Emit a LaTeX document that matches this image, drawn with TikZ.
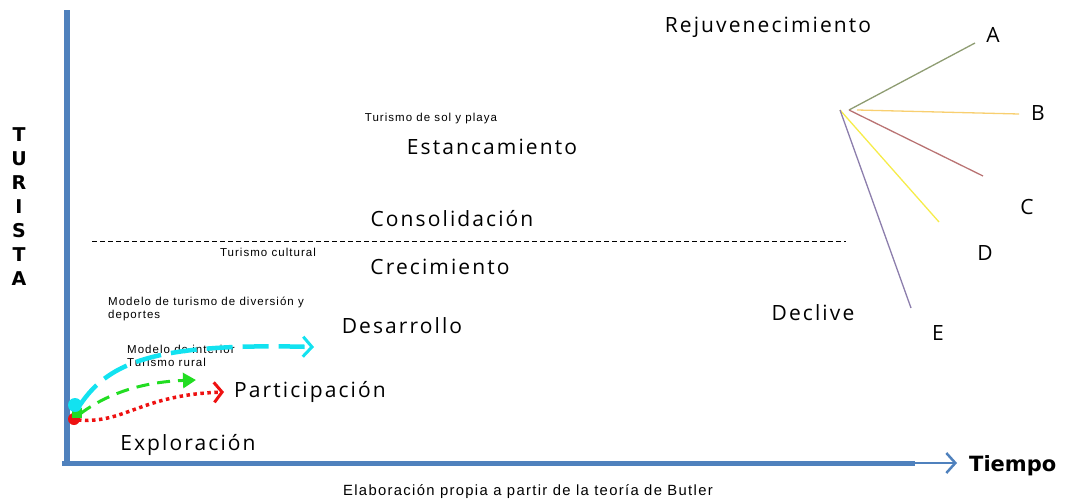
\documentclass[tikz,border=0pt]{standalone}
\usepackage{fontspec}
\setmainfont{Open Sans}
\newfontfamily\stagefont[LetterSpace=10]{Open Sans}
\newfontfamily\notefont[LetterSpace=9]{Liberation Sans}
\newfontfamily\axisfont{DejaVu Sans}
\usetikzlibrary{arrows.meta}
\definecolor{axisblue}{HTML}{4F81BD}
\definecolor{curvecyan}{HTML}{12E2F0}
\definecolor{curvegreen}{HTML}{22DD22}
\definecolor{curvered}{HTML}{EE1111}
\definecolor{branchA}{HTML}{8E9C72}
\definecolor{branchB}{HTML}{F8CF70}
\definecolor{branchC}{HTML}{B97373}
\definecolor{branchD}{HTML}{F6EC4A}
\definecolor{branchE}{HTML}{8C7EAC}

\begin{document}
\begin{tikzpicture}[x=1pt, y=-1pt,
  stage/.style = {font=\stagefont\fontsize{21}{25}\selectfont, inner sep=0pt},
  note/.style = {font=\notefont\fontsize{11.5}{12.5}\selectfont, inner sep=0pt, align=left},
  letter/.style = {font=\axisfont\bfseries\fontsize{19}{23}\selectfont, inner sep=0pt},
  branch/.style = {line width=1.3pt}]
            \useasboundingbox (0,0) rectangle (1065,503);
            % ejes
            \coordinate (o) at (67,463);
            \coordinate (ytop) at (67,10);
            \coordinate (xend) at (915,463);
            \coordinate (xtip) at (957,463);
            \draw[axisblue, line width=6pt] (o) -- (ytop);
            \draw[axisblue, line width=5pt] (62,463) -- (xend);
            \draw[axisblue, line width=2.5pt, -{Straight Barb[length=9pt, width=20pt, line width=2.5pt]}] (910,463) -- (xtip);
            \node[letter, anchor=west, font=\axisfont\bfseries\fontsize{21}{25}\selectfont] (tiempo) at (969,466) {Tiempo};
            \node[letter, align=center, font=\axisfont\bfseries\fontsize{19}{24}\selectfont] (turista) at (19,207) {T\\U\\R\\I\\S\\T\\A};

            % etapas
            \node[stage] (rejuv) at (768,27) {Rejuvenecimiento};
            \node[note] (sol) at (431,119) {Turismo de sol y playa};
            \node[stage] (estanc) at (492,147) {Estancamiento};
            \node[stage] (consol) at (452,219) {Consolidación};
            \coordinate (dash1) at (92,241);
            \coordinate (dash2) at (846,241);
            \draw[dashed, line width=0.8pt, dash pattern=on 5pt off 3pt] (dash1) -- (dash2);
            \node[note] (cultural) at (268,252) {Turismo cultural};
            \node[stage] (crec) at (440,267) {Crecimiento};
            \node[note, anchor=north west] (diversion) at (108,297) {Modelo de turismo de diversión y\\deportes};
            \node[stage] (desarr) at (402,326) {Desarrollo};
            \node[stage] (declive) at (813,313) {Declive};
            \node[note, anchor=north west] (interior) at (127,345) {Modelo de interior\\Turismo rural};
            \node[stage] (partic) at (310,392) {Participación};
            \node[stage] (explor) at (188,445) {Exploración};
            \node[note, font=\notefont\fontsize{14.8}{16}\selectfont] (fuente) at (528,492) {Elaboración propia a partir de la teoría de Butler};

            % ramas del declive / rejuvenecimiento
            \node[stage] (A) at (993,35) {A};
            \node[stage] (B) at (1038,113) {B};
            \node[stage] (C) at (1027,207) {C};
            \node[stage] (D) at (985,253) {D};
            \node[stage] (E) at (938,333) {E};
            \coordinate (ra) at (975,43);
            \coordinate (rb) at (1019,114);
            \coordinate (rc) at (983,176);
            \coordinate (rd) at (939,222);
            \coordinate (re) at (911,308);
            \draw[branch, branchA] (849,110) -- (ra);
            \draw[branch, branchB] (857,110) -- (rb);
            \draw[branch, branchC] (849,110) -- (rc);
            \draw[branch, branchD] (840,110) -- (rd);
            \draw[branch, branchE] (840,110) -- (re);

            % modelos
            \coordinate (ctip) at (314,347);
            \coordinate (gtip) at (196,380);
            \coordinate (rtip) at (224,392);
            \draw[curvered, line width=3.5pt, dash pattern=on 3.5pt off 3.5pt, -{Straight Barb[length=8pt, width=20pt, line width=3pt]}] (78,420) .. controls (125,424) and (140,395) .. (rtip);
            \draw[curvegreen, line width=3pt, dash pattern=on 13pt off 8pt, -{Triangle[length=13pt, width=15pt]}] (80,414) .. controls (105,395) and (140,382) .. (gtip);
            \draw[curvecyan, line width=4.5pt, dash pattern=on 26pt off 10pt, -{Straight Barb[length=9pt, width=20pt, line width=3pt]}] (80,405) .. controls (110,360) and (160,343) .. (ctip);
            \node[circle, fill=curvered, minimum size=12pt, inner sep=0pt] (rdot) at (74,419) {};
            \node[fill=curvegreen, minimum size=10pt, inner sep=0pt] (gdot) at (77,413) {};
            \node[circle, fill=curvecyan, minimum size=14pt, inner sep=0pt] (cdot) at (75,405) {};
        \end{tikzpicture}
\end{document}
